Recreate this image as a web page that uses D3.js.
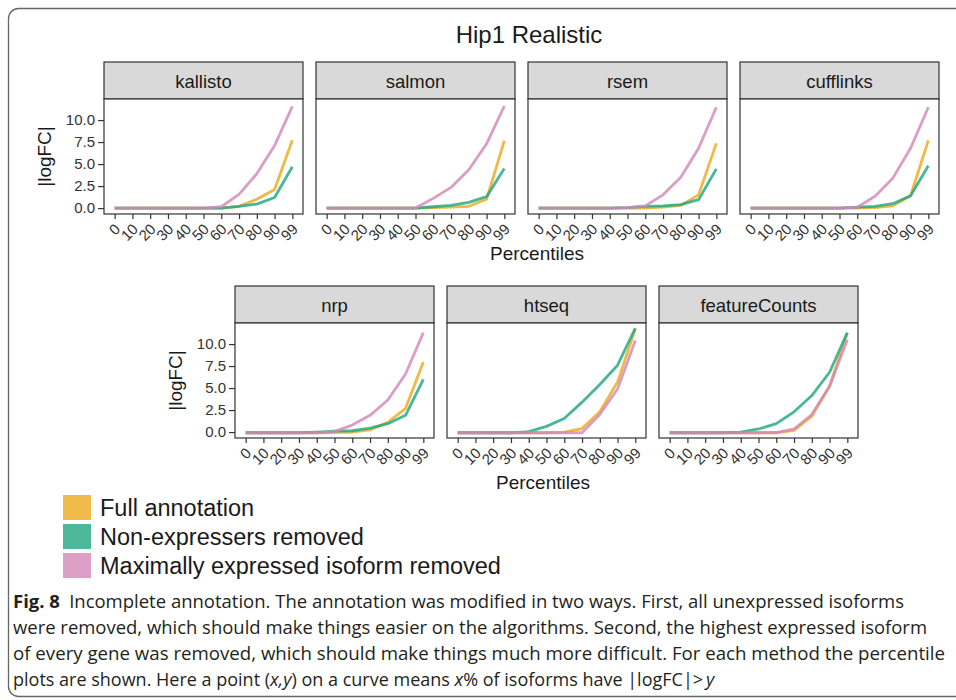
<!DOCTYPE html>
<html>
<head>
<meta charset="utf-8">
<script src="https://cdn.jsdelivr.net/npm/d3@7"></script>
<style>
  body { margin: 0; background: #fff; }
  svg text { font-family: "Liberation Sans", Arial, sans-serif; }
  svg text.caption { font-family: "Open Sans", "Noto Sans", sans-serif; }
</style>
</head>
<body>
<div id="chart"></div>
<script>
// percentiles on the x axis (discrete)
const percentiles = ["0", "10", "20", "30", "40", "50", "60", "70", "80", "90", "99"];
const methods = ["kallisto", "salmon", "rsem", "cufflinks", "nrp", "htseq", "featureCounts"];
const seriesNames = ["Full annotation", "Non-expressers removed", "Maximally expressed isoform removed"];
const yTicks = [0, 2.5, 5, 7.5, 10];

// |logFC| per percentile: [full, non-expressers removed, max expressed removed]
const kallisto = [
    [0, 0, 0, 0, 0, 0, 0, 0.2, 1.0, 2.1, 7.7],
    [0, 0, 0, 0, 0, 0, 0, 0.2, 0.45, 1.2, 4.7],
    [0, 0, 0, 0, 0, 0, 0.15, 1.55, 3.9, 7.1, 11.55]
];
const salmon = [
    [0, 0, 0, 0, 0, 0, 0.05, 0.1, 0.2, 1.0, 7.65],
    [0, 0, 0, 0, 0, 0, 0.15, 0.3, 0.65, 1.3, 4.5],
    [0, 0, 0, 0, 0, 0, 1.1, 2.35, 4.35, 7.3, 11.6]
];
const rsem = [
    [0, 0, 0, 0, 0, 0, 0, 0.1, 0.3, 1.5, 7.35],
    [0, 0, 0, 0, 0, 0.05, 0.2, 0.25, 0.4, 0.95, 4.45],
    [0, 0, 0, 0, 0, 0.05, 0.25, 1.5, 3.5, 6.8, 11.45]
];
const cufflinks = [
    [0, 0, 0, 0, 0, 0, 0, 0.05, 0.25, 1.4, 7.7],
    [0, 0, 0, 0, 0, 0, 0.1, 0.2, 0.5, 1.4, 4.8],
    [0, 0, 0, 0, 0, 0, 0.1, 1.35, 3.4, 6.8, 11.45]
];
const nrp = [
    [-0.08, -0.08, -0.08, -0.08, -0.08, -0.05, 0, 0.25, 1.1, 2.7, 7.95],
    [-0.08, -0.08, -0.08, -0.08, 0, 0.1, 0.15, 0.45, 0.95, 1.9, 6.0],
    [-0.08, -0.08, -0.08, -0.08, -0.08, 0.05, 0.8, 1.9, 3.65, 6.6, 11.3]
];
const htseq = [
    [-0.08, -0.08, -0.08, -0.08, -0.08, -0.08, 0, 0.4, 2.3, 5.7, 11.7],
    [-0.08, -0.08, -0.08, -0.08, 0.05, 0.65, 1.55, 3.4, 5.4, 7.6, 11.8],
    [-0.08, -0.08, -0.08, -0.08, -0.08, -0.08, -0.08, -0.08, 2.0, 4.9, 10.4]
];
const featureCounts = [
    [-0.08, -0.08, -0.08, -0.08, -0.08, -0.08, -0.08, 0.2, 1.8, 5.2, 11.25],
    [-0.08, -0.08, -0.08, -0.08, 0, 0.35, 0.95, 2.3, 4.15, 6.8, 11.3],
    [-0.08, -0.08, -0.08, -0.08, -0.08, -0.08, -0.05, 0.35, 2.0, 5.2, 10.5]
];
const methodData = [kallisto, salmon, rsem, cufflinks, nrp, htseq, featureCounts];

const lineColors = ["#ECAA1D", "#20A781", "#D388B9"];
const captionLines = [
    "Incomplete annotation. The annotation was modified in two ways. First, all unexpressed isoforms",
    "were removed, which should make things easier on the algorithms. Second, the highest expressed isoform",
    "of every gene was removed, which should make things much more difficult. For each method the percentile",
    "plots are shown. Here a point (x,y) on a curve means x% of isoforms have |logFC|> y"
];

drawChart();

function drawChart() {
    const width = 956, height = 700;
    const svg = d3.select("#chart").append("svg")
        .attr("width", width).attr("height", height);

    // outer figure frame
    svg.append("rect")
        .attr("x", 8.5).attr("y", 8.5)
        .attr("width", 1000).attr("height", 688)
        .attr("rx", 10)
        .attr("fill", "none").attr("stroke", "#666").attr("stroke-width", 1.3);

    svg.append("text")
        .attr("x", 529).attr("y", 43)
        .attr("text-anchor", "middle")
        .attr("font-size", 24).attr("fill", "#1a1a1a")
        .text("Hip1 Realistic");

    const panelW = 199, panelH = 115, stripH = 37;

    const allValues = methodData.flat(2);
    const lo = d3.min(allValues), hi = d3.max(allValues);
    const pad = (hi - lo) * 0.05;

    const x = d3.scalePoint().domain(percentiles).range([0, panelW]).padding(0.6);
    const y = d3.scaleLinear().domain([lo - pad, hi + pad]).range([panelH, 0]);

    const line = d3.line()
        .x((d, i) => x(percentiles[i]))
        .y(d => y(d));

    methods.forEach((name, m) => {
        const row = m < 4 ? 0 : 1;
        const col = m < 4 ? m : m - 4;
        const left = (row === 0 ? 104 : 235) + col * 212;
        const top = row === 0 ? 99 : 323;

        const g = svg.append("g").attr("transform", `translate(${left},${top})`);

        // strip
        g.append("rect")
            .attr("x", 0).attr("y", -stripH)
            .attr("width", panelW).attr("height", stripH)
            .attr("fill", "#d9d9d9").attr("stroke", "#333").attr("stroke-width", 1.2);
        g.append("text")
            .attr("x", panelW / 2).attr("y", -11)
            .attr("text-anchor", "middle")
            .attr("font-size", 18.5).attr("fill", "#1a1a1a")
            .text(name);

        g.append("rect")
            .attr("width", panelW).attr("height", panelH)
            .attr("fill", "#fff");

        const clipId = "clip" + m;
        g.append("clipPath").attr("id", clipId)
            .append("rect").attr("width", panelW).attr("height", panelH);

        g.append("g").attr("clip-path", `url(#${clipId})`)
            .selectAll("path")
            .data(methodData[m])
            .enter()
            .append("path")
            .attr("d", d => line(d))
            .attr("fill", "none")
            .attr("stroke", (d, i) => lineColors[i])
            .attr("stroke-opacity", 0.82)
            .attr("stroke-width", 2.8)
            .attr("stroke-linejoin", "round");

        g.append("rect")
            .attr("width", panelW).attr("height", panelH)
            .attr("fill", "none").attr("stroke", "#333").attr("stroke-width", 1.2);

        // x axis
        const xAxis = g.append("g")
            .attr("transform", `translate(0,${panelH})`)
            .call(d3.axisBottom(x).tickSize(5));
        xAxis.select(".domain").remove();
        xAxis.selectAll(".tick line").attr("stroke", "#333").attr("stroke-width", 1.2);
        xAxis.selectAll(".tick text")
            .attr("font-size", 15).attr("fill", "#333")
            .attr("text-anchor", "end")
            .attr("dy", null).attr("y", null)
            .attr("transform", "translate(6,16) rotate(-45)");

        // y axis only on leftmost panels
        if (col === 0) {
            const yAxis = g.append("g")
                .call(d3.axisLeft(y).tickValues(yTicks).tickFormat(d3.format(".1f")).tickSize(6).tickPadding(3));
            yAxis.select(".domain").remove();
            yAxis.selectAll(".tick line").attr("stroke", "#333").attr("stroke-width", 1.2);
            yAxis.selectAll(".tick text")
                .attr("font-size", 15).attr("fill", "#333");

            svg.append("text")
                .attr("transform", `translate(${left - 53},${top + panelH / 2}) rotate(-90)`)
                .attr("text-anchor", "middle")
                .attr("font-size", 19).attr("fill", "#1a1a1a")
                .text("|logFC|");
        }
    });

    svg.append("text")
        .attr("x", 537).attr("y", 260)
        .attr("text-anchor", "middle")
        .attr("font-size", 19).attr("fill", "#1a1a1a")
        .text("Percentiles");
    svg.append("text")
        .attr("x", 543).attr("y", 489)
        .attr("text-anchor", "middle")
        .attr("font-size", 19).attr("fill", "#1a1a1a")
        .text("Percentiles");

    // legend
    const legend = svg.append("g").attr("transform", "translate(63,495)");
    const items = legend.selectAll("g")
        .data(seriesNames)
        .enter()
        .append("g")
        .attr("transform", (d, i) => `translate(0,${i * 29})`);
    items.append("rect")
        .attr("width", 28).attr("height", 25)
        .attr("fill", (d, i) => lineColors[i])
        .attr("fill-opacity", 0.8);
    items.append("text")
        .attr("x", 37).attr("y", 21)
        .attr("font-size", 23.5).attr("fill", "#1a1a1a")
        .text(d => d);

    // caption; first three lines squeezed to the printed widths
    const lineEnds = [904, 927, 945];
    captionLines.forEach((t, i) => {
        const txt = svg.append("text")
            .attr("class", "caption")
            .attr("x", 13).attr("y", 608 + i * 26)
            .attr("font-size", 18).attr("fill", "#231f20");
        if (i < 3) {
            txt.attr("textLength", lineEnds[i] - 13)
                .attr("lengthAdjust", "spacingAndGlyphs");
        }
        if (i === 0) {
            txt.append("tspan").attr("font-weight", "bold").text("Fig. 8");
            txt.append("tspan").text("\u2002" + t);
        } else if (i === 3) {
            txt.append("tspan").text("plots are shown. Here a point (");
            txt.append("tspan").attr("font-style", "italic").text("x,y");
            txt.append("tspan").text(") on a curve means ");
            txt.append("tspan").attr("font-style", "italic").text("x");
            txt.append("tspan").text("% of isoforms have |logFC|>\u2009");
            txt.append("tspan").attr("font-style", "italic").text("y");
        } else {
            txt.text(t);
        }
    });
}
</script>
</body>
</html>
